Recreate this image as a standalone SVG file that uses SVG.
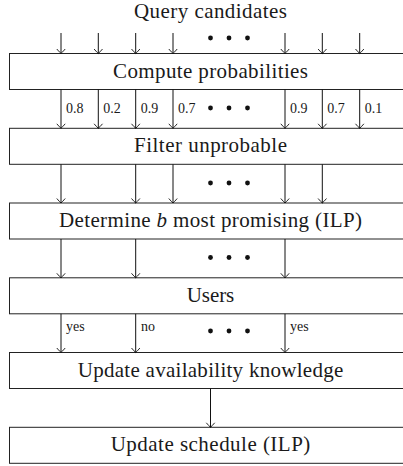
<svg xmlns="http://www.w3.org/2000/svg" width="403" height="466" viewBox="0 0 403 466">
<style>
.box{fill:#fff;stroke:#222;stroke-width:1}
.t{font-size:21px;fill:#1a1a1a;text-anchor:middle}
.l{font-size:14px;fill:#1a1a1a}
.c line{stroke:#111;stroke-width:1;marker-end:url(#to)}
.d{fill:#111}
</style>
<defs>
<marker id="to" markerUnits="userSpaceOnUse" viewBox="-6 -6 12 12" markerWidth="12" markerHeight="12" refX="0" refY="0" orient="auto" overflow="visible">
<path d="M -4.5,-4.2 Q -1,-1.2 0,0 Q -1,1.2 -4.5,4.2" fill="none" stroke="#111" stroke-width="0.9"/>
</marker>
</defs>
<g font-family="'Liberation Serif', 'DejaVu Serif', serif">
<text class="t" x="210.5" y="18" textLength="153" lengthAdjust="spacing">Query candidates</text>
<g id="n1"><rect class="box" x="9.5" y="53.5" width="402" height="36"/><text class="t" x="210.5" y="77.5" textLength="195" lengthAdjust="spacing">Compute probabilities</text></g>
<g id="n2"><rect class="box" x="9.5" y="128.3" width="402" height="36"/><text class="t" x="210.5" y="152.3" textLength="153" lengthAdjust="spacing">Filter unprobable</text></g>
<g id="n3"><rect class="box" x="9.5" y="203" width="402" height="36"/><text class="t" x="210.5" y="227" textLength="303" lengthAdjust="spacing">Determine <tspan font-style="italic">b</tspan> most promising (ILP)</text></g>
<g id="n4"><rect class="box" x="9.5" y="277.8" width="402" height="36"/><text class="t" x="210.5" y="301.8" textLength="47.5" lengthAdjust="spacing">Users</text></g>
<g id="n5"><rect class="box" x="9.5" y="352.5" width="402" height="36"/><text class="t" x="210.5" y="376.5" textLength="265.6" lengthAdjust="spacing">Update availability knowledge</text></g>
<g id="n6"><rect class="box" x="9.5" y="427.3" width="402" height="36"/><text class="t" x="210.5" y="451.3" textLength="199.6" lengthAdjust="spacing">Update schedule (ILP)</text></g>
<g id="connectors" class="c">
<line x1="61" y1="33" x2="61" y2="53.5"/><line x1="98.3" y1="33" x2="98.3" y2="53.5"/><line x1="135.7" y1="33" x2="135.7" y2="53.5"/><line x1="173" y1="33" x2="173" y2="53.5"/>
<line x1="285" y1="33" x2="285" y2="53.5"/><line x1="322.3" y1="33" x2="322.3" y2="53.5"/><line x1="359.7" y1="33" x2="359.7" y2="53.5"/>
<line x1="61" y1="89.5" x2="61" y2="128.3"/><line x1="98.3" y1="89.5" x2="98.3" y2="128.3"/><line x1="135.7" y1="89.5" x2="135.7" y2="128.3"/><line x1="173" y1="89.5" x2="173" y2="128.3"/>
<line x1="285" y1="89.5" x2="285" y2="128.3"/><line x1="322.3" y1="89.5" x2="322.3" y2="128.3"/><line x1="359.7" y1="89.5" x2="359.7" y2="128.3"/>
<line x1="61" y1="164.3" x2="61" y2="203"/><line x1="135.7" y1="164.3" x2="135.7" y2="203"/><line x1="173" y1="164.3" x2="173" y2="203"/><line x1="285" y1="164.3" x2="285" y2="203"/><line x1="322.3" y1="164.3" x2="322.3" y2="203"/>
<line x1="61" y1="239" x2="61" y2="277.8"/><line x1="135.7" y1="239" x2="135.7" y2="277.8"/><line x1="285" y1="239" x2="285" y2="277.8"/>
<line x1="61" y1="313.8" x2="61" y2="352.5"/><line x1="135.7" y1="313.8" x2="135.7" y2="352.5"/><line x1="285" y1="313.8" x2="285" y2="352.5"/>
<line x1="210.5" y1="388.5" x2="210.5" y2="427.3"/>
</g>
<g id="labels">
<text class="l" x="66" y="112.5">0.8</text><text class="l" x="103.3" y="112.5">0.2</text><text class="l" x="140.7" y="112.5">0.9</text><text class="l" x="178" y="112.5">0.7</text>
<text class="l" x="290" y="112.5">0.9</text><text class="l" x="327.3" y="112.5">0.7</text><text class="l" x="364.7" y="112.5">0.1</text>
<text class="l" x="66" y="331">yes</text><text class="l" x="141" y="331">no</text><text class="l" x="290" y="331">yes</text>
</g>
</g>
<g id="dots" class="d">
<circle cx="210.5" cy="38" r="2.4"/><circle cx="229" cy="38" r="2.4"/><circle cx="247.5" cy="38" r="2.4"/>
<circle cx="210.5" cy="108" r="2.4"/><circle cx="229" cy="108" r="2.4"/><circle cx="247.5" cy="108" r="2.4"/>
<circle cx="210.5" cy="183" r="2.4"/><circle cx="229" cy="183" r="2.4"/><circle cx="247.5" cy="183" r="2.4"/>
<circle cx="210.5" cy="257.5" r="2.4"/><circle cx="229" cy="257.5" r="2.4"/><circle cx="247.5" cy="257.5" r="2.4"/>
<circle cx="210.5" cy="331" r="2.4"/><circle cx="229" cy="331" r="2.4"/><circle cx="247.5" cy="331" r="2.4"/>
</g>
</svg>
